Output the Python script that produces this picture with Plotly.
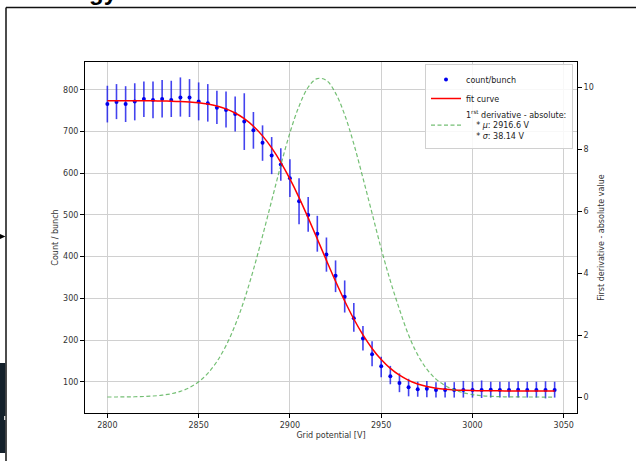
import plotly.graph_objects as go

# ---------------- data ----------------
grid_potential = [2800, 2805, 2810, 2815, 2820, 2825, 2830, 2835, 2840, 2845,
                  2850, 2855, 2860, 2865, 2870, 2875, 2880, 2885, 2890, 2895,
                  2900, 2905, 2910, 2915, 2920, 2925, 2930, 2935, 2940, 2945,
                  2950, 2955, 2960, 2965, 2970, 2975, 2980, 2985, 2990, 2995,
                  3000, 3005, 3010, 3015, 3020, 3025, 3030, 3035, 3040, 3045]

count_per_bunch = [766, 771, 766, 772, 778, 776, 778, 776, 782, 782,
                   772, 768, 757, 752, 742, 724, 703, 673, 643, 621,
                   588, 533, 500, 455, 405, 354, 304, 252, 204, 166,
                   137, 113, 97, 87, 82, 83, 80, 80, 80, 80,
                   80, 80, 81, 80, 80, 81, 80, 80, 80, 80]

err_up = [44, 43, 43, 44, 42, 44, 46, 46, 48, 44,
          46, 46, 41, 44, 42, 68, 44, 42, 44, 39,
          46, 55, 43, 43, 41, 37, 39, 37, 30, 31,
          23, 25, 23, 20, 18, 19, 19, 19, 19, 22,
          20, 23, 19, 20, 20, 20, 20, 20, 21, 20]

err_down = [44, 41, 43, 45, 43, 44, 44, 41, 46, 47,
            45, 44, 39, 42, 42, 68, 44, 43, 45, 39,
            45, 55, 40, 43, 41, 39, 38, 32, 29, 29,
            26, 19, 22, 22, 18, 20, 18, 18, 18, 18,
            18, 19, 19, 18, 18, 19, 18, 18, 20, 18]

fit_curve = [774.0, 774.0, 774.0, 773.9, 773.9, 773.8, 773.5, 773.1, 772.4, 771.2,
             769.3, 766.2, 761.4, 754.5, 744.6, 731.1, 713.0, 689.8, 661.0, 626.5,
             586.6, 541.8, 493.1, 442.4, 391.1, 341.0, 293.7, 250.5, 212.3, 179.9,
             153.2, 131.9, 115.6, 103.4, 94.7, 88.6, 84.6, 82.0, 80.3, 79.3,
             78.7, 78.4, 78.2, 78.1, 78.0, 78.0, 78.0, 78.0, 78.0, 78.0]

first_derivative = [0.001, 0.002, 0.004, 0.009, 0.017, 0.033, 0.060, 0.107, 0.184, 0.306,
                    0.491, 0.764, 1.146, 1.659, 2.32, 3.14, 4.11, 5.20, 6.34, 7.48,
                    8.53, 9.39, 10.00, 10.28, 10.22, 9.81, 9.11, 8.17, 7.07, 5.93,
                    4.79, 3.75, 2.83, 2.00, 1.36, 0.90, 0.58, 0.37, 0.23, 0.14,
                    0.080, 0.045, 0.024, 0.012, 0.006, 0.003, 0.0015, 0.001, 0.0, 0.0]

x_ticks = [2800, 2850, 2900, 2950, 3000, 3050]
y_ticks = [100, 200, 300, 400, 500, 600, 700, 800]
y2_ticks = [0, 2, 4, 6, 8, 10]

mu_label = "2916.6 V"
sigma_label = "38.14 V"

# ---------------- figure ----------------
FONT = "DejaVu Sans"
W, H = 636, 461
L, R, T, B = 85, 577, 62, 413


def px(x):
    return (x - L) / (R - L)


def py(y):
    return (B - y) / (B - T)


fig = go.Figure()

fig.add_trace(go.Scatter(
    x=grid_potential, y=count_per_bunch, mode="markers", name="count/bunch",
    marker=dict(color="#0000ee", size=4),
    error_y=dict(type="data", symmetric=False, array=err_up, arrayminus=err_down,
                 color="rgba(20,20,235,0.8)", thickness=1.6, width=0),
))

fig.add_trace(go.Scatter(
    x=grid_potential, y=fit_curve, mode="lines", name="fit curve",
    line=dict(color="#ff0000", width=1.5, shape="spline"),
))

deriv_name = ("1<sup>rst</sup> derivative - absolute:<br>"
              "\u00a0\u00a0\u00a0\u00a0* <i>\u03bc</i>: " + mu_label + "<br>"
              "\u00a0\u00a0\u00a0\u00a0* <i>\u03c3</i>: " + sigma_label)

fig.add_trace(go.Scatter(
    x=grid_potential, y=first_derivative, mode="lines", name=deriv_name,
    yaxis="y2",
    line=dict(color="rgba(70,170,70,0.75)", width=1.2, dash="4px,2.5px", shape="spline"),
))

axis_common = dict(
    showline=True, linecolor="#000000", linewidth=1,
    ticks="outside", ticklen=4, tickwidth=1, tickcolor="#000000",
    tickfont=dict(family=FONT, size=8, color="#333333"),
    zeroline=False,
)

shapes = [
    dict(type="line", xref="paper", yref="paper", x0=px(6), x1=px(640), y0=py(7.5), y1=py(7.5),
         line=dict(color="#111111", width=1.5)),
    dict(type="line", xref="paper", yref="paper", x0=px(6), x1=px(6), y0=py(7.5), y1=py(470),
         line=dict(color="#111111", width=1.5)),
    dict(type="rect", xref="paper", yref="paper", x0=px(-2), x1=px(5.3), y0=py(363), y1=py(453),
         fillcolor="#14202a", line=dict(width=0)),
    dict(type="rect", xref="paper", yref="paper", x0=px(4), x1=px(5.3), y0=py(416), y1=py(420),
         fillcolor="#d8d8d8", line=dict(width=0)),
    dict(type="path", xref="paper", yref="paper",
         path=f"M {px(-1)},{py(233.5)} L {px(5.5)},{py(236.5)} L {px(-1)},{py(239.5)} Z",
         fillcolor="#000000", line=dict(width=0)),
]

annotations = [
    dict(text="<b>gy</b>", xref="paper", yref="paper", x=px(87), y=py(7),
         xanchor="left", yanchor="bottom", showarrow=False,
         font=dict(family="Liberation Sans", size=24, color="#000000")),
]

fig.update_layout(
    width=W, height=H,
    margin=dict(l=L, r=W - R, t=T, b=H - B, pad=0),
    paper_bgcolor="white", plot_bgcolor="white",
    font=dict(family=FONT, size=8, color="#333333"),
    showlegend=True,
    legend=dict(x=px(573), xanchor="right", y=py(64), yanchor="top",
                bgcolor="rgba(255,255,255,0.85)", bordercolor="#d0d0d0", borderwidth=1,
                font=dict(family=FONT, size=8, color="#222222"),
                itemwidth=30, tracegroupgap=0),
    xaxis=dict(range=[2787.75, 3057.25], tickvals=x_ticks, showgrid=True,
               gridcolor="#d0d0d0", gridwidth=1, mirror=True,
               title=dict(text="Grid potential [V]", standoff=3,
                          font=dict(family=FONT, size=8, color="#333333")),
               **axis_common),
    yaxis=dict(range=[25, 867], tickvals=y_ticks, showgrid=True,
               gridcolor="#d0d0d0", gridwidth=1, mirror=True,
               title=dict(text="Count / bunch", standoff=3,
                          font=dict(family=FONT, size=8, color="#333333")),
               **axis_common),
    yaxis2=dict(range=[-0.515, 10.815], tickvals=y2_ticks, overlaying="y", side="right",
                showgrid=False,
                title=dict(text="First derivative - absolute value", standoff=5,
                           font=dict(family=FONT, size=8, color="#333333")),
                **axis_common),
    shapes=shapes,
    annotations=annotations,
)

fig.write_html("out.html", config={"displayModeBar": False},
               post_script="document.body.style.margin='0';")
